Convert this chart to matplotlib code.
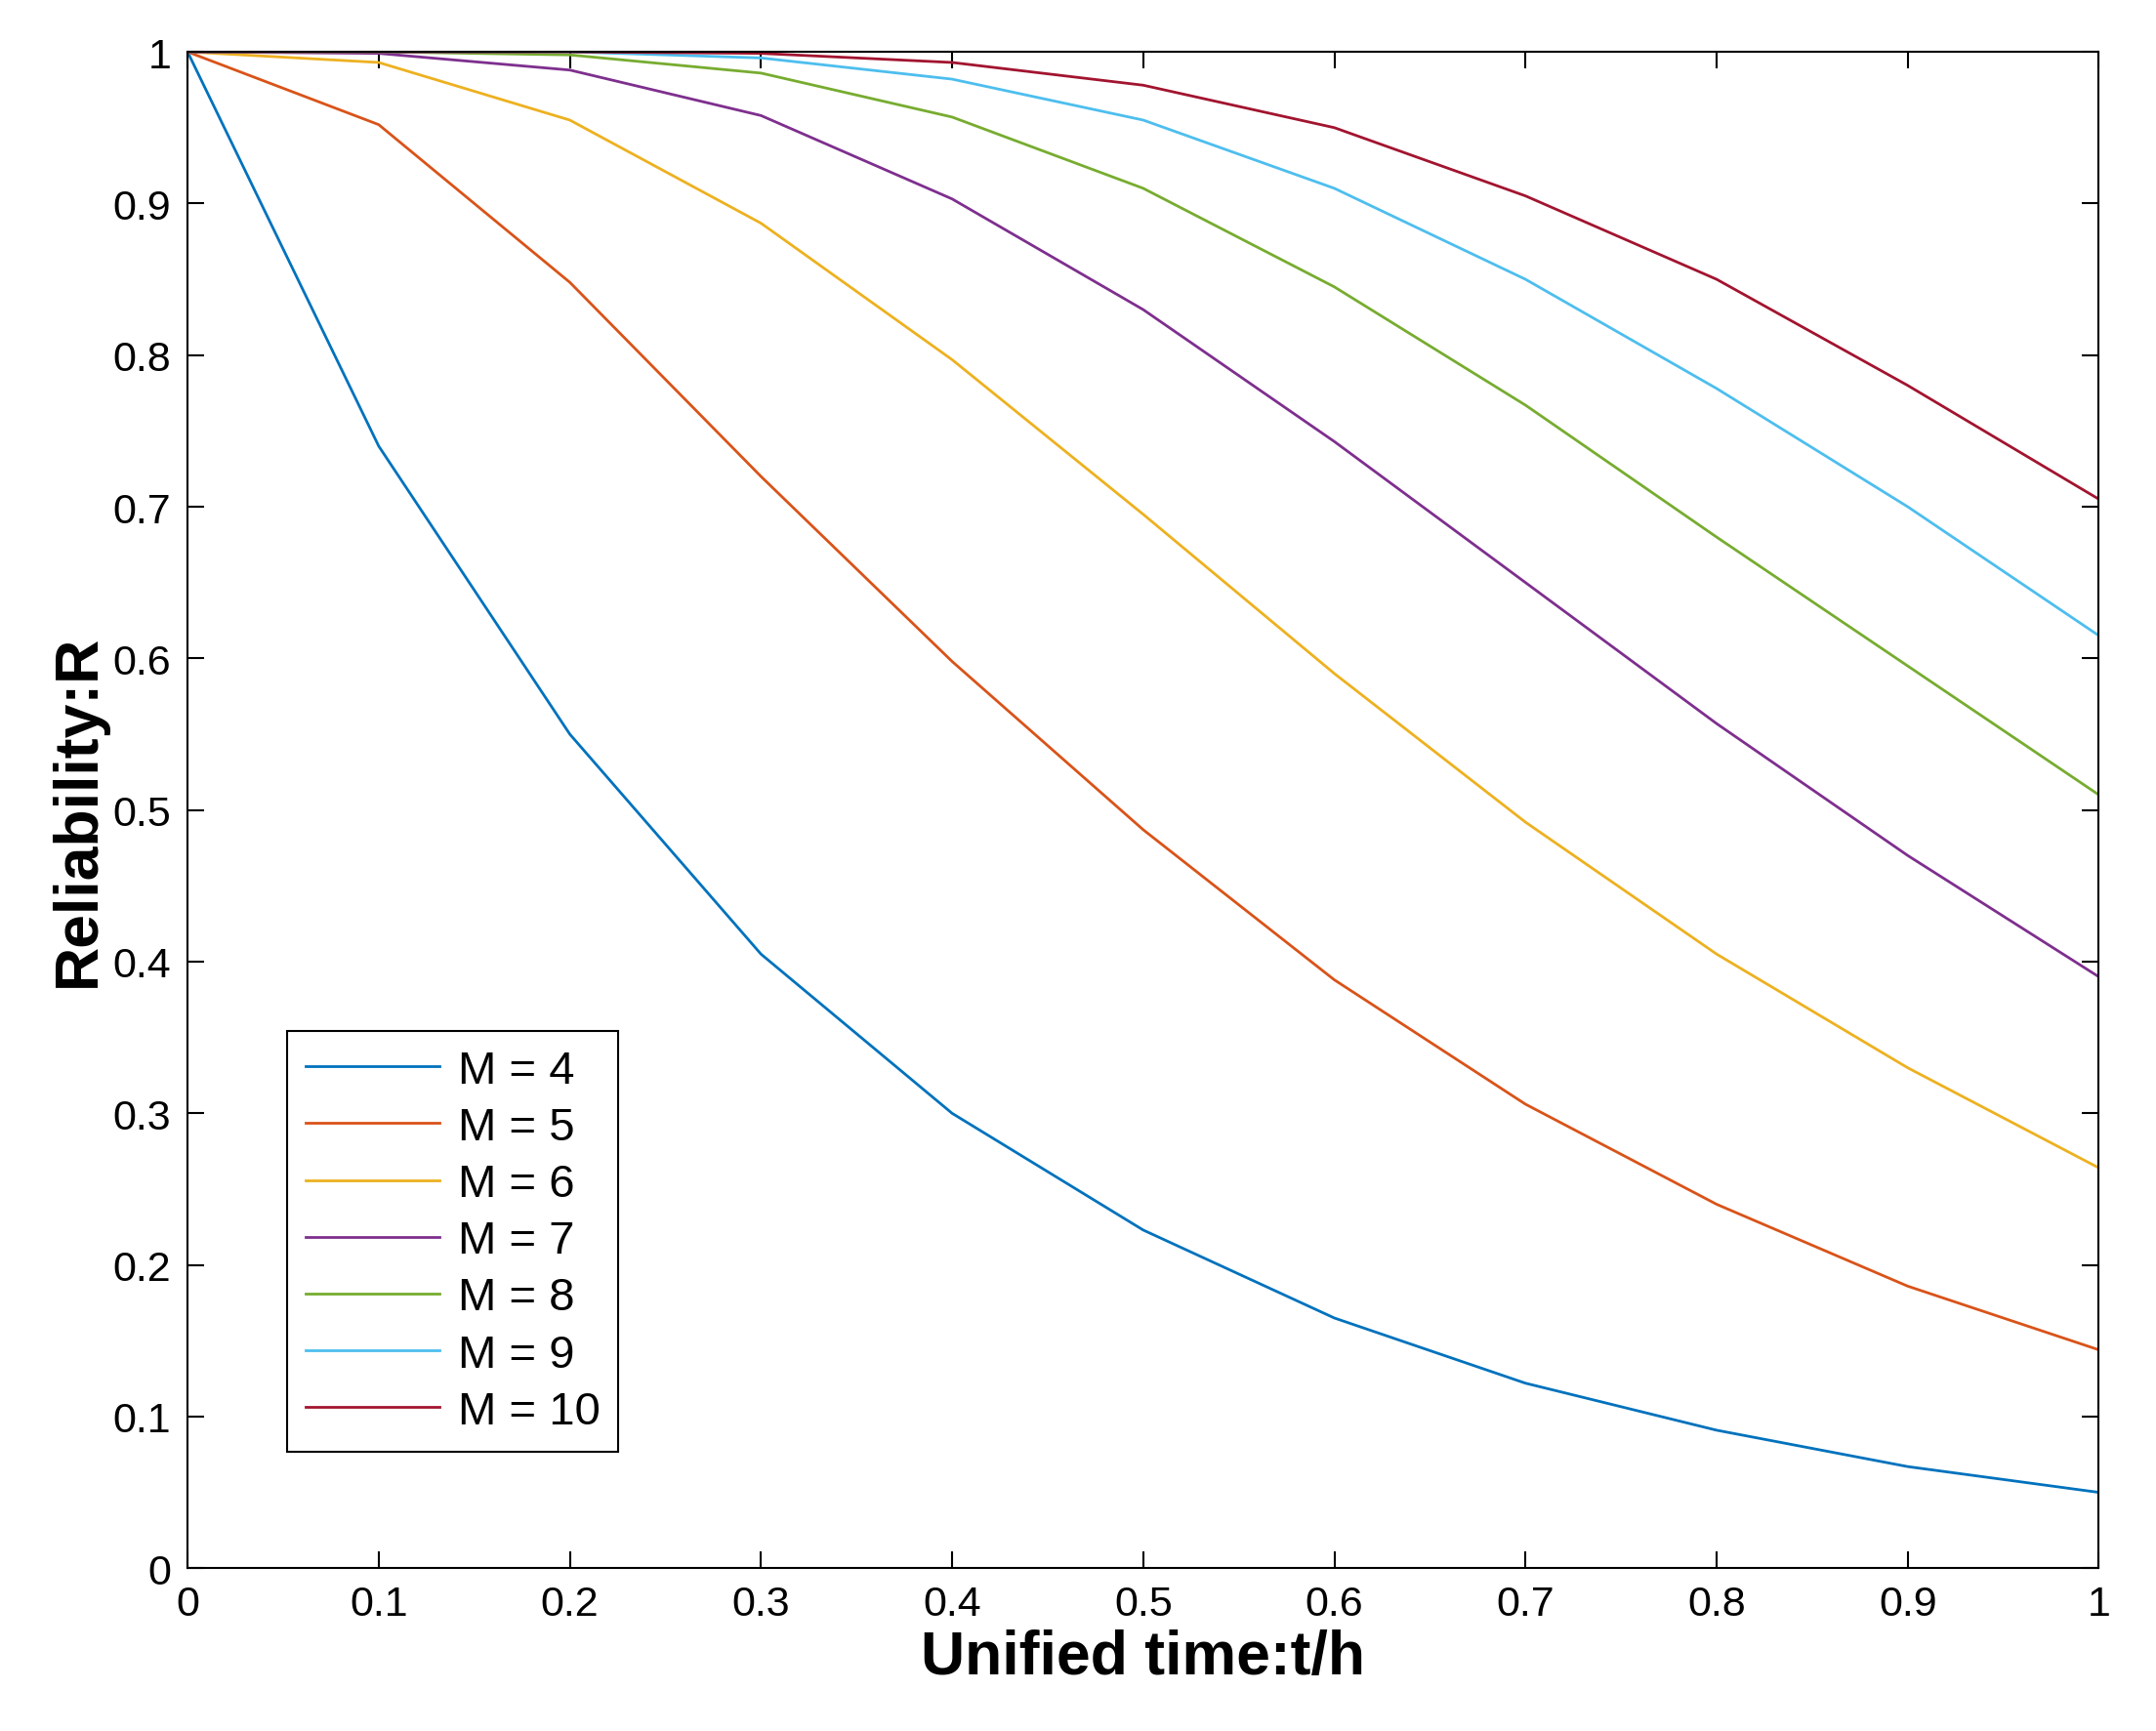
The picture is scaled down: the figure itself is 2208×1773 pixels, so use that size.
import numpy as np
import matplotlib.pyplot as plt

plt.rcParams['font.family'] = ['Liberation Sans', 'DejaVu Sans']

# tempo unificado
t = [0, 0.1, 0.2, 0.3, 0.4, 0.5, 0.6, 0.7, 0.8, 0.9, 1.0]

# confiabilidade para cada M
r_m4 = [1, 0.74, 0.55, 0.405, 0.30, 0.223, 0.165, 0.122, 0.091, 0.067, 0.05]
r_m5 = [1, 0.952, 0.848, 0.72, 0.598, 0.487, 0.388, 0.306, 0.240, 0.186, 0.144]
r_m6 = [1, 0.993, 0.955, 0.887, 0.797, 0.695, 0.590, 0.492, 0.405, 0.330, 0.264]
r_m7 = [1, 0.999, 0.988, 0.958, 0.903, 0.830, 0.743, 0.650, 0.557, 0.470, 0.390]
r_m8 = [1, 1.0, 0.998, 0.986, 0.957, 0.910, 0.845, 0.767, 0.680, 0.595, 0.510]
r_m9 = [1, 1.0, 1.0, 0.996, 0.982, 0.955, 0.910, 0.850, 0.778, 0.700, 0.615]
r_m10 = [1, 1.0, 1.0, 0.999, 0.993, 0.978, 0.950, 0.905, 0.850, 0.780, 0.705]

labels = ['M = 4', 'M = 5', 'M = 6', 'M = 7', 'M = 8', 'M = 9', 'M = 10']
series = [r_m4, r_m5, r_m6, r_m7, r_m8, r_m9, r_m10]
colors = ['#0072BD', '#D95319', '#EDB120', '#7E2F8E', '#77AC30', '#4DBEEE', '#A2142F']

fig = plt.figure(figsize=(22.08, 17.74), dpi=100)
ax = fig.add_axes([0.087, 0.094, 0.8865, 0.8755])

for y, lab, c in zip(series, labels, colors):
    ax.plot(t, y, color=c, lw=2, label=lab)

ax.set_xlim(0, 1)
ax.set_ylim(0, 1)
ax.set_xticks(np.arange(0, 1.01, 0.1))
ax.set_yticks(np.arange(0, 1.01, 0.1))
ax.set_xticklabels(['0', '0.1', '0.2', '0.3', '0.4', '0.5', '0.6', '0.7', '0.8', '0.9', '1'])
ax.set_yticklabels(['0', '0.1', '0.2', '0.3', '0.4', '0.5', '0.6', '0.7', '0.8', '0.9', '1'])
ax.tick_params(labelsize=31, direction='in', length=12, width=1.5, top=True, right=True, pad=12)
for s in ax.spines.values():
    s.set_linewidth(1.5)

ax.set_xlabel('Unified time:t/h', fontsize=45, fontweight='bold')
ax.set_ylabel('Reliability:R', fontsize=45, fontweight='bold')

leg = ax.legend(loc='lower left', bbox_to_anchor=(0.052, 0.077), fontsize=34,
                fancybox=False, edgecolor='black', framealpha=1,
                handlelength=2.9, borderaxespad=0, labelspacing=0.3,
                handletextpad=0.4, borderpad=0.4)
leg.get_frame().set_linewidth(1.5)

plt.savefig('out.png', dpi=100)
